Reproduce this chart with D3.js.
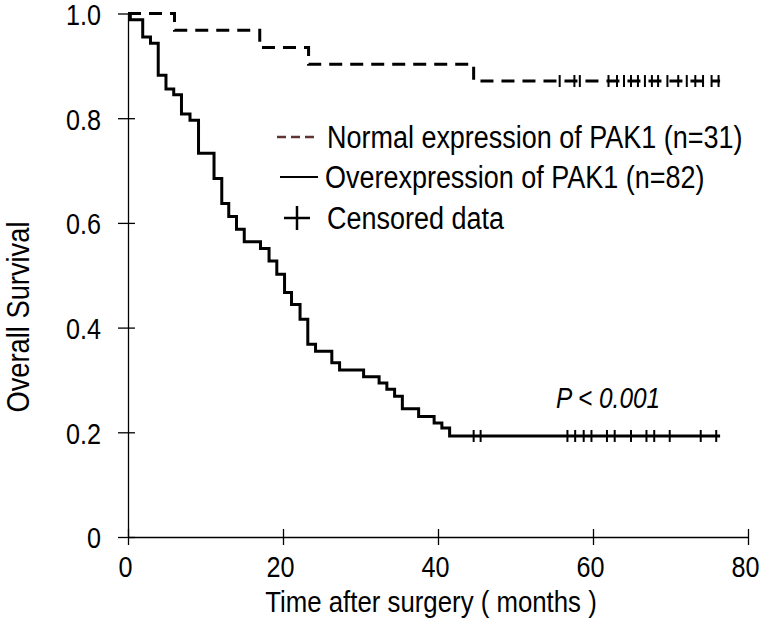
<!DOCTYPE html>
<html>
<head>
<meta charset="utf-8">
<script src="https://cdn.jsdelivr.net/npm/d3@7"></script>
<style>
  html, body { margin: 0; padding: 0; background: #fff; }
  svg { display: block; }
  text { font-family: "Liberation Sans", Arial, sans-serif; fill: #000; }
</style>
</head>
<body>
<svg id="chart" width="767" height="643"></svg>
<script>
// ---- Data ----
const normalTimes = [6.0, 17.0, 23.3, 44.6];
const normalSurv  = [0.968, 0.935, 0.903, 0.871];
const normalEnd = 76.4;
const normalCensored = [55.7, 57.6, 58.3, 62.0, 63.1, 64.0, 64.9, 65.8, 66.7, 67.6, 68.4, 69.6, 71.0, 72.1, 73.2, 74.2, 75.3, 76.2];

const overTimes = [0.3, 1.9, 2.9, 3.9, 4.9, 5.9, 6.9, 8.0, 9.1, 11.1, 12.1, 13.0, 14.0, 15.0, 17.1, 18.2, 19.2, 20.2, 21.1, 22.2, 23.2, 24.2, 26.3, 27.3, 30.4, 32.4, 33.4, 34.4, 35.4, 37.5, 39.5, 40.5, 41.5];
const overSurv  = [0.988, 0.955, 0.943, 0.882, 0.856, 0.845, 0.808, 0.796, 0.733, 0.685, 0.637, 0.612, 0.588, 0.564, 0.551, 0.527, 0.502, 0.467, 0.444, 0.416, 0.368, 0.355, 0.333, 0.319, 0.306, 0.294, 0.282, 0.269, 0.245, 0.230, 0.218, 0.208, 0.193];
const overEnd = 76.4;
const overCensored = [44.6, 45.5, 56.7, 57.7, 58.8, 59.8, 61.8, 62.8, 64.9, 66.9, 67.9, 69.9, 73.9, 75.9];

const xTicks = [0, 20, 40, 60, 80];
const yTicks = [0, 0.2, 0.4, 0.6, 0.8, 1.0];
const yTickLabels = ["0", "0.2", "0.4", "0.6", "0.8", "1.0"];

const legendLabels = ["Normal expression of PAK1 (n=31)", "Overexpression of PAK1 (n=82)", "Censored data"];

// ---- Drawing ----
const svg = d3.select("#chart");
const x = d3.scaleLinear().domain([0, 80]).range([128, 748]);
const y = d3.scaleLinear().domain([0, 1]).range([537, 13.5]);
const FS = 31;        // font size
const FS_TICK = 30;
const SX_TICK = 0.84; // horizontal compression (condensed typeface look)
const SX_TEXT = 0.87;

// condensed text helper
function ctext(parent, px, py, str, opts = {}) {
  const sx = opts.sx || SX_TEXT;
  const g = parent.append("g").attr("transform", `translate(${px},${py}) ${opts.rotate ? "rotate(" + opts.rotate + ")" : ""} scale(${sx},1)`);
  const t = g.append("text").attr("x", 0).attr("y", 0)
    .attr("text-anchor", opts.anchor || "start")
    .style("font-size", (opts.fs || FS) + "px")
    .text(str);
  if (opts.italic) t.style("font-style", "italic");
  return t;
}

// axes
const xAxis = d3.axisBottom(x).tickValues(xTicks).tickSize(0).tickFormat(d3.format("d"));
const gx = svg.append("g").attr("transform", `translate(0,${y(0)})`).call(xAxis);
gx.select(".domain").attr("stroke", "#000").attr("stroke-width", 1.3);
gx.selectAll(".tick line").remove();
gx.selectAll(".tick").append("line").attr("y1", -8).attr("y2", 8).attr("stroke", "#000").attr("stroke-width", 1.3);
gx.selectAll(".tick text").attr("y", 40).attr("dy", 0).attr("x", -3 / SX_TICK)
  .attr("transform", `scale(${SX_TICK},1)`)
  .style("font-size", FS_TICK + "px").attr("font-family", null);

const yAxis = d3.axisLeft(y).tickValues(yTicks).tickSize(0).tickFormat((d, i) => yTickLabels[i]);
const gy = svg.append("g").attr("transform", `translate(${x(0)},0)`).call(yAxis);
gy.select(".domain").attr("stroke", "#000").attr("stroke-width", 1.3);
gy.selectAll(".tick line").remove();
gy.selectAll(".tick").append("line").attr("x1", -10).attr("x2", 7).attr("stroke", "#000").attr("stroke-width", 1.3);
gy.selectAll(".tick text").attr("x", -27 / SX_TICK).attr("dy", "0.36em")
  .attr("transform", `scale(${SX_TICK},1)`)
  .style("font-size", FS_TICK + "px").attr("font-family", null);

// axis titles
ctext(svg, 431, 612, "Time after surgery ( months )", { anchor: "middle", sx: 0.86, fs: 30 });
ctext(svg, 29, 317, "Overall Survival", { anchor: "middle", rotate: -90, sx: 0.88 });

// curves
function stepPoints(times, surv, end) {
  const pts = [[0, 1]];
  times.forEach((t, i) => pts.push([t, surv[i]]));
  pts.push([end, surv[surv.length - 1]]);
  return pts;
}
const line = d3.line().x(d => x(d[0])).y(d => y(d[1])).curve(d3.curveStepAfter);

svg.append("path").datum(stepPoints(normalTimes, normalSurv, normalEnd))
  .attr("d", line).attr("fill", "none").attr("stroke", "#000").attr("stroke-width", 3)
  .attr("stroke-dasharray", "13,8");
svg.append("path").datum(stepPoints(overTimes, overSurv, overEnd))
  .attr("d", line).attr("fill", "none").attr("stroke", "#000").attr("stroke-width", 3);

// censor marks
function survAt(times, surv, t) {
  let s = 1;
  times.forEach((tt, i) => { if (tt <= t) s = surv[i]; });
  return s;
}
svg.append("g").selectAll("line").data(normalCensored).join("line")
  .attr("x1", d => x(d)).attr("x2", d => x(d))
  .attr("y1", d => y(survAt(normalTimes, normalSurv, d)) - 6)
  .attr("y2", d => y(survAt(normalTimes, normalSurv, d)) + 6)
  .attr("stroke", "#000").attr("stroke-width", 2);
svg.append("g").selectAll("line").data(overCensored).join("line")
  .attr("x1", d => x(d)).attr("x2", d => x(d))
  .attr("y1", d => y(survAt(overTimes, overSurv, d)) - 6)
  .attr("y2", d => y(survAt(overTimes, overSurv, d)) + 6)
  .attr("stroke", "#000").attr("stroke-width", 2);

// legend
const lg = svg.append("g");
lg.append("line").attr("x1", 277).attr("x2", 318).attr("y1", 137).attr("y2", 137)
  .attr("stroke", "#5e3434").attr("stroke-width", 2.5).attr("stroke-dasharray", "9,5");
ctext(lg, 327, 148, legendLabels[0]);
lg.append("line").attr("x1", 280).attr("x2", 318).attr("y1", 177).attr("y2", 177)
  .attr("stroke", "#000").attr("stroke-width", 2);
ctext(lg, 325, 188, legendLabels[1]);
lg.append("line").attr("x1", 284).attr("x2", 310).attr("y1", 218).attr("y2", 218)
  .attr("stroke", "#000").attr("stroke-width", 2.5);
lg.append("line").attr("x1", 297).attr("x2", 297).attr("y1", 206).attr("y2", 230)
  .attr("stroke", "#000").attr("stroke-width", 2.5);
ctext(lg, 327, 229, legendLabels[2]);

// p-value
ctext(svg, 556, 408, "P < 0.001", { italic: true, fs: 29, sx: 0.84 });
</script>
</body>
</html>
